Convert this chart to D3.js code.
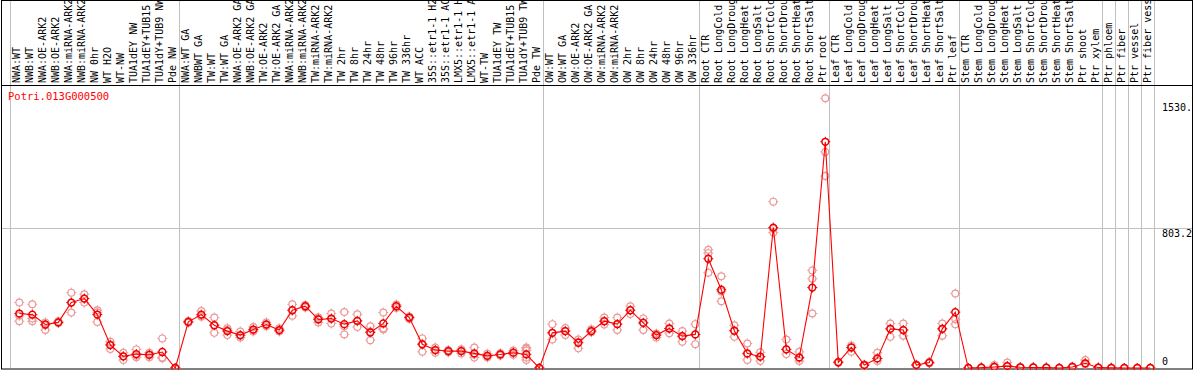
<!DOCTYPE html>
<html>
<head>
<meta charset="utf-8">
<script src="https://cdn.jsdelivr.net/npm/d3@7"></script>
<style>
  body { margin: 0; background: #fff; }
  svg { display: block; }
</style>
</head>
<body>
<div id="chart"></div>
<script>
const geneId = "Potri.013G000500";

const categories = [
  "NWA:WT", "NWB:WT", "NWA:OE-ARK2", "NWB:OE-ARK2", "NWA:miRNA-ARK2", "NWB:miRNA-ARK2",
  "NW 0hr", "WT H2O", "WT-NW", "TUA1dEY NW", "TUA1dEY+TUB15", "TUA1dY+TUB9 NW", "Pde NW",
  "NWA:WT GA", "NWBWT GA", "TW:WT", "TW:WT GA", "NWA:OE-ARK2 GA", "NWB:OE-ARK2 GA",
  "TW:OE-ARK2", "TW:OE-ARK2 GA", "NWA:miRNA-ARK2", "NWB:miRNA-ARK2", "TW:miRNA-ARK2",
  "TW:miRNA-ARK2", "TW 2hr", "TW 8hr", "TW 24hr", "TW 48hr", "TW 96hr", "TW 336hr",
  "WT ACC", "35S::etr1-1 H2", "35S::etr1-1 AC", "LMX5::etr1-1 H", "LMX5::etr1-1 A",
  "WT-TW", "TUA1dEY TW", "TUA1dEY+TUB15", "TUA1dY+TUB9 TW", "Pde TW",
  "OW:WT", "OW:WT GA", "OW:OE-ARK2", "OW:OE-ARK2 GA", "OW:miRNA-ARK2", "OW:miRNA-ARK2",
  "OW 2hr", "OW 8hr", "OW 24hr", "OW 48hr", "OW 96hr", "OW 336hr",
  "Root CTR", "Root LongCold", "Root LongDroug", "Root LongHeat", "Root LongSalt",
  "Root ShortCold", "Root ShortDrou", "Root ShortHeat", "Root ShortSalt", "Ptr root",
  "Leaf CTR", "Leaf LongCold", "Leaf LongDroug", "Leaf LongHeat", "Leaf LongSalt",
  "Leaf ShortCold", "Leaf ShortDrou", "Leaf ShortHeat", "Leaf ShortSalt", "Ptr leaf",
  "Stem CTR", "Stem LongCold", "Stem LongDroug", "Stem LongHeat", "Stem LongSalt",
  "Stem ShortCold", "Stem ShortDrou", "Stem ShortHeat", "Stem ShortSalt", "Ptr shoot",
  "Ptr xylem", "Ptr phloem", "Ptr fiber", "Ptr vessel", "Ptr fiber vess"
];

// mean expression per sample
const means = [
  313, 307, 250, 262, 376, 399, 307, 132, 67, 80, 76, 92, 0,
  265, 307, 246, 212, 189, 221, 250, 218, 332, 355, 279, 284, 252, 271, 204, 256, 355, 290,
  136, 103, 97, 97, 84, 70, 78, 88, 78, 0,
  202, 212, 145, 212, 269, 252, 332, 259, 189, 227, 183, 193,
  628, 450, 214, 84, 65, 807, 107, 61, 462, 1300,
  33, 118, 17, 55, 225, 218, 17, 31, 225, 321,
  0, 2, 6, 11, 4, 3, 2, 0, 6, 27,
  2, 1, 0, 0, 0
];

// replicate values per sample
const reps = [
  [376, 269, 300], [366, 269, 285], [262, 218, 245], [268, 258, 262], [433, 319, 376],
  [424, 376, 399], [332, 265, 320], [151, 109, 135], [88, 46, 67], [107, 62, 72],
  [88, 62, 78], [170, 56, 60], [0, 0, 0],
  [265, 260, 270], [328, 295, 300], [290, 202, 246], [228, 189, 218], [210, 175, 185],
  [236, 210, 218], [262, 240, 248], [228, 210, 216], [366, 300, 330], [362, 348, 355],
  [291, 262, 284], [313, 256, 284], [322, 193, 240], [309, 236, 268], [240, 160, 210],
  [319, 221, 228], [365, 345, 355], [296, 282, 290],
  [170, 93, 140], [118, 88, 103], [103, 90, 97], [108, 84, 97], [118, 60, 78],
  [82, 60, 70], [85, 72, 78], [100, 76, 88], [118, 46, 60, 100, 110], [0, 0, 0],
  [252, 164, 202], [230, 190, 212], [164, 113, 150], [222, 205, 212], [290, 250, 269],
  [290, 218, 252], [355, 310, 332], [285, 218, 262], [198, 175, 189], [256, 200, 227],
  [212, 151, 183], [252, 137, 193],
  [680, 660, 548], [527, 384, 440], [246, 179, 214], [141, 46, 80], [90, 40, 65],
  [956, 779, 800], [164, 80, 107], [93, 40, 55], [561, 513, 313], [1550, 1242, 1103],
  [33, 30, 36], [130, 93, 118], [17, 12, 20], [88, 40, 55], [256, 179, 225],
  [256, 185, 218], [17, 14, 20], [31, 27, 35], [256, 185, 225], [428, 252, 280],
  [0, 0, 0], [2, 2, 5], [17, 6, 6], [31, 8, 11], [4, 2, 6],
  [3, 2, 4], [2, 1, 3], [0, 0, 1], [6, 4, 8], [46, 27, 20],
  [2, 1, 3], [1, 0, 2], [0, 0, 0], [0, 0, 0], [0, 0, 0]
];

const yTicks = [0, 803.2, 1530.4];
const yTickLabels = ["0", "803.2", "1530."];

// sample indices before which a separator line is drawn
const groupBreaks = [0, 13, 41, 53, 63, 73, 84, 85, 86, 87, 88];

const width = 1194;
const height = 370;
const plotTop = 85;
const plotBottom = 368;
const font = "'DejaVu Sans Mono', monospace";

const x = d3.scalePoint()
    .domain(d3.range(categories.length))
    .range([19.3, 19.3 + 13 * (categories.length - 1)]);

const y = d3.scaleLinear()
    .domain([0, 1530.4])
    .range([plotBottom, 101.7]);

const svg = d3.select("#chart")
    .append("svg")
    .attr("width", width)
    .attr("height", height)
    .attr("font-family", font)
    .attr("font-size", 10);

svg.append("rect")
    .attr("width", width)
    .attr("height", height)
    .attr("fill", "#fff");

// gray separators
const sepX = k => Math.round(19.3 + 13 * k - 8) - 0.5;
svg.selectAll("line.sep")
    .data(groupBreaks)
    .join("line")
    .attr("class", "sep")
    .attr("x1", sepX).attr("x2", sepX)
    .attr("y1", 0).attr("y2", plotBottom)
    .attr("stroke", "#c0c0c0")
    .attr("stroke-width", 1);

// horizontal grid at mid tick
svg.append("line")
    .attr("x1", 1).attr("x2", width - 2)
    .attr("y1", Math.round(y(yTicks[1])) + 0.5)
    .attr("y2", Math.round(y(yTicks[1])) + 0.5)
    .attr("stroke", "#c0c0c0");

// frame
svg.append("rect")
    .attr("x", 1.5).attr("y", 0.5)
    .attr("width", width - 3).attr("height", plotBottom + 0.5)
    .attr("fill", "none")
    .attr("stroke", "#000");
svg.append("line")
    .attr("x1", 1).attr("x2", width - 1)
    .attr("y1", plotTop + 0.5).attr("y2", plotTop + 0.5)
    .attr("stroke", "#000");

// sample labels, rotated
svg.append("g")
    .selectAll("text")
    .data(categories)
    .join("text")
    .attr("transform", (d, i) => `translate(${x(i) + 1},${plotTop - 2}) rotate(-90)`)
    .attr("fill", "#000")
    .text(d => d);

// y labels
svg.append("g")
    .selectAll("text")
    .data(yTicks)
    .join("text")
    .attr("x", 1162)
    .attr("y", d => d === 0 ? y(d) - 3 : y(d) + 9)
    .attr("fill", "#000")
    .text((d, i) => yTickLabels[i]);

// title
svg.append("text")
    .attr("x", 8).attr("y", 100)
    .attr("fill", "#ff0000")
    .attr("font-size", 10.5)
    .text(geneId);

// marker: ring with small ticks
const marker = (g, cx, cy, color, sw) => {
    g.append("circle")
        .attr("cx", cx).attr("cy", cy).attr("r", 3.4)
        .attr("fill", "none").attr("stroke", color).attr("stroke-width", sw);
    g.append("path")
        .attr("d", `M${cx},${cy - 5}V${cy - 3.4}M${cx},${cy + 3.4}V${cy + 5}` +
                   `M${cx - 5},${cy}H${cx - 3.4}M${cx + 3.4},${cy}H${cx + 5}`)
        .attr("stroke", color).attr("stroke-width", 1);
};

const repG = svg.append("g");
reps.forEach((arr, i) => {
    arr.forEach(v => marker(repG, x(i), y(v), "#eb9a9a", 1.2));
});

svg.append("path")
    .datum(means)
    .attr("fill", "none")
    .attr("stroke", "#ff0000")
    .attr("stroke-width", 1.1)
    .attr("d", d3.line().x((d, i) => x(i)).y(d => y(d)));

const meanG = svg.append("g");
means.forEach((v, i) => marker(meanG, x(i), y(v), "#ee0000", 1.5));
</script>
</body>
</html>
